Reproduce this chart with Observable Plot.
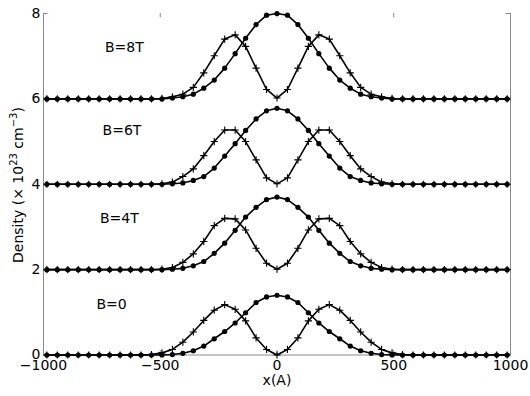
<!DOCTYPE html>
<html>
<head>
<meta charset="utf-8">
<script src="https://cdn.jsdelivr.net/npm/d3@7"></script>
<script src="https://cdn.jsdelivr.net/npm/@observablehq/plot@0.6"></script>
<style>
  html, body { margin: 0; padding: 0; background: #fff; }
  #chart svg { display: block; }
</style>
</head>
<body>
<div id="chart"></div>
<script>
// x positions (Å)
const xs = [-985.6,-940.8,-896,-851.2,-806.4,-761.6,-716.8,-672,-627.2,-582.4,-537.6,-492.8,-448,-403.2,-358.4,-313.6,-268.8,-224,-179.2,-134.4,-89.6,-44.8,0,44.8,89.6,134.4,179.2,224,268.8,313.6,358.4,403.2,448,492.8,537.6,582.4,627.2,672,716.8,761.6,806.4,851.2,896,940.8,985.6];

// group labels and vertical offsets
const groups = ["B=0", "B=4T", "B=6T", "B=8T"];
const offsets = [0, 2, 4, 6];

// circle-marker series (density, ×10^23 cm^-3)
const dots0 = [0,0,0,0,0,0,0,0,0,0,0,0,0.01,0.04,0.10,0.21,0.38,0.55,0.75,0.99,1.23,1.36,1.40,1.36,1.23,0.99,0.75,0.55,0.38,0.21,0.10,0.04,0.01,0,0,0,0,0,0,0,0,0,0,0,0];
const dots4 = [0,0,0,0,0,0,0,0,0,0,0,0,0.01,0.03,0.09,0.19,0.38,0.62,0.92,1.23,1.46,1.64,1.70,1.64,1.46,1.23,0.92,0.62,0.38,0.19,0.09,0.03,0.01,0,0,0,0,0,0,0,0,0,0,0,0];
const dots6 = [0,0,0,0,0,0,0,0,0,0,0,0,0.01,0.03,0.09,0.18,0.38,0.66,0.95,1.26,1.53,1.72,1.78,1.72,1.53,1.26,0.95,0.66,0.38,0.18,0.09,0.03,0.01,0,0,0,0,0,0,0,0,0,0,0,0];
const dots8 = [0,0,0,0,0,0,0,0,0,0,0,0,0.02,0.05,0.11,0.25,0.44,0.72,1.06,1.42,1.74,1.96,2.00,1.96,1.74,1.42,1.06,0.72,0.44,0.25,0.11,0.05,0.02,0,0,0,0,0,0,0,0,0,0,0,0];

// plus-marker series
const plus0 = [0,0,0,0,0,0,0,0,0,0,0.01,0.05,0.13,0.30,0.54,0.81,1.05,1.18,1.07,0.80,0.40,0.13,0,0.13,0.40,0.80,1.07,1.18,1.05,0.81,0.54,0.30,0.13,0.05,0.01,0,0,0,0,0,0,0,0,0,0];
const plus4 = [0,0,0,0,0,0,0,0,0,0,0,0.01,0.05,0.17,0.37,0.66,1.03,1.20,1.19,0.93,0.50,0.15,0.01,0.15,0.50,0.93,1.19,1.20,1.03,0.66,0.37,0.17,0.05,0.01,0,0,0,0,0,0,0,0,0,0,0];
const plus6 = [0,0,0,0,0,0,0,0,0,0,0,0.01,0.05,0.18,0.36,0.67,1.00,1.27,1.27,1.00,0.57,0.15,0.01,0.15,0.57,1.00,1.27,1.27,1.00,0.67,0.36,0.18,0.05,0.01,0,0,0,0,0,0,0,0,0,0,0];
const plus8 = [0,0,0,0,0,0,0,0,0,0,0,0.01,0.05,0.11,0.27,0.61,1.01,1.40,1.50,1.23,0.72,0.22,0.02,0.22,0.72,1.23,1.50,1.40,1.01,0.61,0.27,0.11,0.05,0.01,0,0,0,0,0,0,0,0,0,0,0];

const xTicks = [-1000, -500, 0, 500, 1000];
const yTicks = [0, 2, 4, 6, 8];

// annotation placement (data coords)
const labelX = [-773, -758, -747, -737];
const labelY = [1.18, 3.19, 5.25, 7.20];

const dotSeries = [dots0, dots4, dots6, dots8];
const plusSeries = [plus0, plus4, plus6, plus8];

const dotRows = [], plusRows = [];
groups.forEach((g, gi) => {
  xs.forEach((x, i) => {
    dotRows.push({g, x, y: dotSeries[gi][i] + offsets[gi]});
    plusRows.push({g, x, y: plusSeries[gi][i] + offsets[gi]});
  });
});
const labelRows = groups.map((g, i) => ({text: g, x: labelX[i], y: labelY[i]}));

const plusSymbol = {
  draw(ctx, size) {
    const r = Math.sqrt(size / Math.PI);
    ctx.moveTo(-r, 0); ctx.lineTo(r, 0);
    ctx.moveTo(0, -r); ctx.lineTo(0, r);
  }
};

const FONT = "DejaVu Sans";
const AXIS = "#8a8a8a";
const fmt = d => (d < 0 ? "\u2212" + Math.abs(d) : String(d));

const chart = Plot.plot({
  width: 530,
  height: 396,
  marginLeft: 43,
  marginRight: 20,
  marginTop: 13,
  marginBottom: 41.5,
  style: {fontFamily: FONT, fontSize: "14px", background: "#fff", color: "#000"},
  x: {domain: [-1000, 1000]},
  y: {domain: [0, 8]},
  marks: [
    // frame (left, right, bottom)
    Plot.ruleX([-1000, 1000], {y1: 0, y2: 8, stroke: AXIS, strokeWidth: 1}),
    Plot.ruleY([0], {x1: -1000, x2: 1000, stroke: AXIS, strokeWidth: 1}),
    // inward ticks
    Plot.ruleX(xTicks, {y1: 8, y2: 7.9, stroke: AXIS}),
    Plot.ruleX(xTicks, {y1: 0, y2: 0.1, stroke: AXIS}),
    Plot.ruleY(yTicks, {x1: -1000, x2: -980, stroke: AXIS}),
    Plot.ruleY(yTicks, {x1: 1000, x2: 980, stroke: AXIS}),
    Plot.axisX({ticks: xTicks, tickFormat: fmt, tickSize: 0, tickPadding: 5, label: null, fontSize: 14, fontFamily: FONT}),
    Plot.axisY({ticks: yTicks, tickFormat: fmt, tickSize: 0, tickPadding: 3, label: null, fontSize: 14, fontFamily: FONT}),
    // curves
    Plot.line(plusRows, {x: "x", y: "y", z: "g", stroke: "black", strokeWidth: 1.6}),
    Plot.line(dotRows, {x: "x", y: "y", z: "g", stroke: "black", strokeWidth: 1.6}),
    Plot.dot(plusRows, {x: "x", y: "y", symbol: plusSymbol, r: 3.6, stroke: "black", strokeWidth: 1.1, fill: "none"}),
    Plot.dot(dotRows, {x: "x", y: "y", r: 2.6, fill: "black", stroke: "none"}),
    // group labels
    Plot.text(labelRows, {x: "x", y: "y", text: "text", textAnchor: "start", fontSize: 14, fontFamily: FONT, fill: "black"}),
    // x axis title
    Plot.text(["x(A)"], {frameAnchor: "bottom", dy: 30, fontSize: 14, fontFamily: FONT, fill: "black"})
  ]
});

document.getElementById("chart").appendChild(chart);

// y-axis title with superscripts
const svg = d3.select(chart);
const t = svg.append("text")
  .attr("transform", "translate(23,263) rotate(-90)")
  .attr("text-anchor", "start")
  .attr("font-family", FONT)
  .attr("font-size", 14)
  .attr("fill", "black");
t.append("tspan").text("Density (\u00d7 10");
t.append("tspan").attr("font-size", 10).attr("dy", -6).text("23");
t.append("tspan").attr("dy", 6).text(" cm");
t.append("tspan").attr("font-size", 10).attr("dy", -6).text("\u22123");
t.append("tspan").attr("dy", 6).text(")");
</script>
</body>
</html>
